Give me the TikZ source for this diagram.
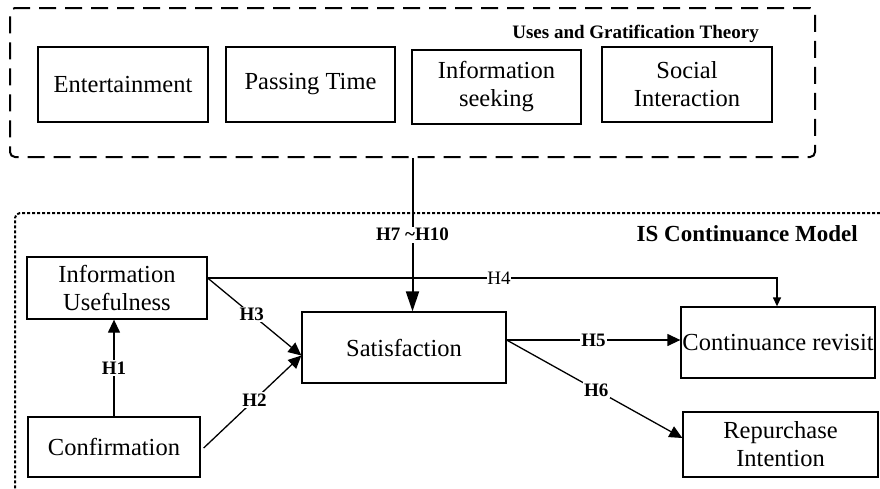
\documentclass[tikz,border=0pt]{standalone}
\usepackage{fontspec}
\setmainfont{Liberation Serif}
\usetikzlibrary{arrows.meta,calc}
\begin{document}
\begin{tikzpicture}[x=1pt,y=-1pt,
  box/.style={draw,line width=1.3pt,inner sep=0pt,align=center,font=\fontsize{24.5}{28}\selectfont},
  lab/.style={font=\bfseries\fontsize{19}{22}\selectfont,fill=white,inner sep=1.5pt},
  plainlab/.style={font=\fontsize{19}{22}\selectfont,fill=white,inner sep=0.5pt},
  title/.style={font=\bfseries\fontsize{#1}{#1}\selectfont,inner sep=0pt},
  conn/.style={line width=1.3pt},
  tipA/.style={-{Triangle[length=13pt,width=12pt]}},
  tipS/.style={-{Triangle[length=9pt,width=8pt]}},
  dashbox/.style={draw,line width=2pt,dash pattern=on 17pt off 9pt,rounded corners=5pt,inner sep=0pt},
  dotbox/.style={draw,line width=2pt,dash pattern=on 3pt off 2pt,rounded corners=5pt,inner sep=0pt}
]
\useasboundingbox (0,0) rectangle (880,488);
\clip (0,0) rectangle (880,488);

% containers
\node[dashbox,minimum width=805pt,minimum height=149pt] (ugt) at (412.5,82.5) {};
\node[dotbox,minimum width=900pt,minimum height=320pt] (isc) at (465,373) {};

\node[title=19,anchor=base east] (ugtt) at (759,38) {Uses and Gratification Theory};
\node[title=23,anchor=base east] (isct) at (858,241) {IS Continuance Model};

% top boxes
\node[box,minimum width=170pt,minimum height=75pt] (ent) at (123,84.5) {Entertainment};
\node[box,minimum width=169pt,minimum height=75pt] (pass) at (310.5,84.5) {Passing Time};
\node[box,minimum width=169pt,minimum height=74pt] (infs) at (496.5,87) {Information\\seeking};
\node[box,minimum width=170pt,minimum height=75pt] (soc) at (687,84.5) {Social\\Interaction};

% model boxes
\node[box,minimum width=180pt,minimum height=62pt] (iu) at (117,288) {Information\\Usefulness};
\node[box,minimum width=172pt,minimum height=60pt] (conf) at (114,447) {Confirmation};
\node[box,minimum width=204pt,minimum height=71pt] (sat) at (404,347.5) {Satisfaction};
\node[box,minimum width=194pt,minimum height=71pt] (cont) at (778,342.5) {Continuance revisit};
\node[box,minimum width=195pt,minimum height=65pt] (rep) at (780.5,444.5) {Repurchase\\Intention};

% helper coordinates
\coordinate (iuo) at ($(iu.east)+(0,-10)$);
\coordinate (satin) at ($(sat.west)+(0,8)$);
\coordinate (confo) at ($(conf.east)+(3,1)$);
\coordinate (sato) at ($(sat.east)+(0,-7.5)$);
\coordinate (repin) at ($(rep.west)+(0,-6.5)$);
\coordinate (h4c) at (777,0);

% H7-H10
\draw[line width=2pt,-{Triangle[length=20pt,width=13pt]}] (ugt.south) -- (ugt.south |- sat.north)
  node[lab,pos=0.5] (h7) {H7 \textasciitilde H10};

% H1
\draw[conn,tipA] (conf.north) -- (conf.north |- iu.south) node[lab,pos=0.5] (h1) {H1};
% H3
\draw[conn,tipA] (iuo) -- (satin) node[lab,pos=0.47] (h3) {H3};
% H2
\draw[conn,tipA] (confo) -- (satin) node[lab,pos=0.52] (h2) {H2};
% H4
\draw[conn,tipS] (iuo) -- (h4c |- iuo) -- (h4c |- cont.north);
\node[plainlab] (h4) at (499,278) {H4};
% H5
\draw[conn,tipA] (sato) -- (sato -| cont.west) node[lab,pos=0.5] (h5) {H5};
% H6
\draw[conn,tipA] (sato) -- (repin) node[lab,pos=0.51] (h6) {H6};
\end{tikzpicture}
\end{document}
